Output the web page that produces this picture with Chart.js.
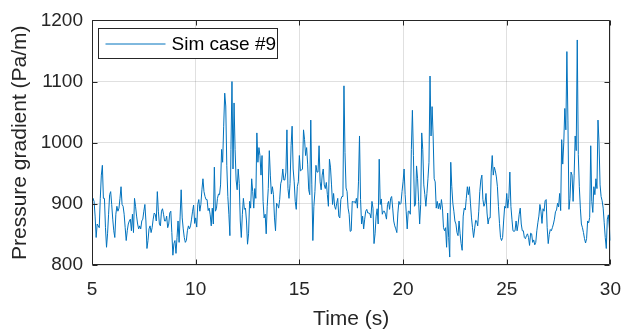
<!DOCTYPE html>
<html>
<head>
<meta charset="utf-8">
<script src="https://cdn.jsdelivr.net/npm/chart.js@4.4.1/dist/chart.umd.min.js"></script>
<style>
  html, body { margin: 0; padding: 0; background: #fff; }
</style>
</head>
<body>
<canvas id="chart" width="634" height="333"></canvas>
<script>
// ── data ──
const seriesLabel = 'Sim case #9';
const tStart = 5;      // s
const tStep = 0.05;    // s, sample spacing
const xTicks = [5, 10, 15, 20, 25, 30];
const yTicks = [800, 900, 1000, 1100, 1200];

// pressure gradient (Pa/m), one value per 0.05 s from 5.00 s to 30.00 s (10 per row = 0.5 s)
const pressureGradient = [
  899, 909, 904, 880, 845, 867, 864, 861, 909, 947,   // 5.0
  963, 909, 909, 861, 829, 851, 883, 915, 920, 899,
  875, 856, 845, 883, 896, 888, 893, 909, 928, 899,   // 6.0
  896, 883, 861, 840, 856, 867, 872, 875, 856, 883,
  853, 909, 896, 880, 867, 859, 864, 859, 872, 875,   // 7.0
  888, 899, 872, 827, 840, 859, 864, 853, 861, 875,
  885, 883, 872, 920, 888, 867, 864, 888, 892, 883,   // 8.0
  872, 872, 880, 861, 867, 885, 888, 853, 816, 835,
  840, 819, 845, 872, 837, 880, 923, 877, 859, 845,   // 9.0
  837, 840, 856, 864, 859, 864, 875, 888, 898, 868,
  877, 862, 899, 907, 888, 899, 923, 941, 920, 912,   // 10.0
  907, 907, 889, 893, 882, 864, 893, 867, 960, 888,
  892, 909, 916, 915, 931, 989, 968, 1027, 1081, 1060, // 11.0
  963, 912, 883, 848, 989, 1100, 957, 1065, 989, 939,
  923, 957, 933, 872, 845, 883, 909, 891, 893, 872,   // 12.0
  834, 851, 904, 893, 941, 920, 893, 925, 909, 1016,
  968, 992, 979, 947, 979, 904, 877, 883, 851, 896,   // 13.0
  925, 987, 947, 916, 928, 915, 877, 856, 901, 899,
  893, 907, 933, 939, 957, 939, 939, 952, 1021, 925,  // 14.0
  909, 933, 995, 1027, 957, 936, 904, 891, 928, 936,
  979, 954, 955, 957, 1021, 1005, 979, 992, 965, 923, // 15.0
  915, 1037, 931, 840, 896, 920, 963, 952, 952, 995,
  936, 923, 947, 957, 931, 925, 935, 915, 896, 973,   // 16.0
  960, 931, 899, 917, 896, 891, 901, 909, 880, 877,
  907, 912, 912, 1093, 984, 926, 920, 893, 883, 855,  // 17.0
  856, 904, 903, 904, 901, 909, 893, 936, 1011, 907,
  867, 880, 859, 875, 888, 891, 885, 885, 884, 877,   // 18.0
  904, 893, 835, 851, 880, 892, 867, 973, 899, 908,
  883, 888, 888, 883, 875, 899, 904, 891, 909, 912,   // 19.0
  893, 872, 864, 859, 853, 885, 904, 899, 901, 920,
  936, 957, 915, 888, 859, 888, 888, 883, 989, 1053,  // 20.0
  979, 896, 899, 962, 941, 904, 867, 899, 1016, 989,
  931, 915, 896, 917, 941, 968, 1109, 1011, 1059, 1011, // 21.0
  941, 936, 893, 904, 892, 901, 891, 907, 893, 861,
  856, 861, 829, 885, 845, 813, 968, 928, 901, 888,   // 22.0
  872, 867, 853, 848, 872, 851, 835, 824, 880, 893,
  890, 909, 928, 915, 928, 901, 877, 861, 845, 859,   // 23.0
  873, 872, 864, 888, 920, 939, 947, 907, 896, 901,
  917, 885, 867, 877, 877, 952, 979, 947, 960, 954,   // 24.0
  944, 928, 896, 868, 845, 840, 845, 872, 896, 893,
  917, 893, 909, 952, 896, 875, 856, 855, 856, 872,   // 25.0
  856, 867, 883, 893, 867, 856, 856, 845, 843, 848,
  851, 845, 832, 852, 851, 837, 841, 833, 837, 856,   // 26.0
  869, 880, 899, 888, 868, 892, 888, 905, 907, 861,
  835, 850, 858, 856, 861, 867, 875, 887, 890, 901,   // 27.0
  895, 917, 889, 1005, 965, 1000, 1056, 1021, 1149, 1037,
  891, 909, 952, 947, 904, 947, 1011, 987, 1168, 981, // 28.0
  928, 893, 867, 861, 853, 843, 836, 843, 872, 869,
  878, 995, 904, 886, 928, 915, 941, 925, 1037, 1000, // 29.0
  931, 912, 905, 893, 869, 845, 827, 875, 882, 861,
  840                                                 // 30.0
];

// ── style ──
const FONT = "'Liberation Sans', Arial, Helvetica, sans-serif";
const AXIS_COLOR = '#262626';
const GRID_COLOR = 'rgba(38,38,38,0.14)';
const LINE_COLOR = '#0072BD';
const TICK_LEN = 5;

// ── Plugin: MATLAB-style box, inward ticks, boxed legend ──
const matlabFrame = {
  id: 'matlabFrame',
  afterDraw(chart) {
    const { ctx, chartArea: a, scales: { x, y } } = chart;
    const L = Math.round(a.left) + 0.5, R = Math.round(a.right) - 0.5;
    const T = Math.round(a.top) + 0.5, B = Math.round(a.bottom) - 0.5;
    ctx.save();
    ctx.strokeStyle = AXIS_COLOR;
    ctx.lineWidth = 1;
    ctx.beginPath();
    ctx.rect(L, T, R - L, B - T);
    xTicks.forEach(v => {
      const px = Math.round(x.getPixelForValue(v)) + 0.5;
      ctx.moveTo(px, B); ctx.lineTo(px, B - TICK_LEN);
      ctx.moveTo(px, T); ctx.lineTo(px, T + TICK_LEN);
    });
    yTicks.forEach(v => {
      const py = Math.round(y.getPixelForValue(v)) + 0.5;
      ctx.moveTo(L, py); ctx.lineTo(L + TICK_LEN, py);
      ctx.moveTo(R, py); ctx.lineTo(R - TICK_LEN, py);
    });
    ctx.stroke();

    // legend box
    const lx = L + 6, ly = T + 8, lw = 179, lh = 30;
    ctx.fillStyle = '#fff';
    ctx.fillRect(lx, ly, lw, lh);
    ctx.strokeRect(lx, ly, lw, lh);
    ctx.strokeStyle = LINE_COLOR;
    ctx.beginPath();
    ctx.moveTo(lx + 7, ly + 15.5);
    ctx.lineTo(lx + 67, ly + 15.5);
    ctx.stroke();
    ctx.fillStyle = '#000';
    ctx.font = `19px ${FONT}`;
    ctx.textAlign = 'left';
    ctx.textBaseline = 'middle';
    ctx.fillText(seriesLabel, lx + 73, ly + 16);
    ctx.restore();
  },
};

const points = pressureGradient.map((v, i) => ({ x: +(tStart + i * tStep).toFixed(2), y: v }));

new Chart(document.getElementById('chart').getContext('2d'), {
  type: 'line',
  data: {
    datasets: [{
      label: seriesLabel,
      data: points,
      borderColor: LINE_COLOR,
      borderWidth: 1,
      pointRadius: 0,
      tension: 0,
      fill: false,
    }],
  },
  plugins: [matlabFrame],
  options: {
    responsive: false,
    devicePixelRatio: 1,
    animation: false,
    layout: { padding: { left: 0, right: 11, top: 15, bottom: 0 } },
    plugins: { legend: { display: false }, tooltip: { enabled: false } },
    scales: {
      x: {
        type: 'linear',
        min: xTicks[0],
        max: xTicks[xTicks.length - 1],
        afterBuildTicks: s => { s.ticks = xTicks.map(v => ({ value: v })); },
        afterFit: s => { s.height = 68; },
        grid: { color: GRID_COLOR, drawTicks: false },
        border: { display: false },
        ticks: {
          font: { family: FONT, size: 19 },
          color: AXIS_COLOR,
          padding: 13,
          maxRotation: 0,
          callback: v => String(v),
        },
        title: {
          display: true,
          text: 'Time (s)',
          font: { family: FONT, size: 21 },
          color: AXIS_COLOR,
          padding: { top: 0, bottom: 1 },
        },
      },
      y: {
        min: yTicks[0],
        max: yTicks[yTicks.length - 1],
        afterBuildTicks: s => { s.ticks = yTicks.map(v => ({ value: v })); },
        afterFit: s => { s.width = 92; },
        grid: { color: GRID_COLOR, drawTicks: false },
        border: { display: false },
        ticks: {
          font: { family: FONT, size: 19 },
          color: AXIS_COLOR,
          padding: 9,
          callback: v => String(v),
        },
        title: {
          display: true,
          text: 'Pressure gradient (Pa/m)',
          font: { family: FONT, size: 21 },
          color: AXIS_COLOR,
          padding: { top: 8, bottom: 0 },
        },
      },
    },
  },
});
</script>
</body>
</html>
